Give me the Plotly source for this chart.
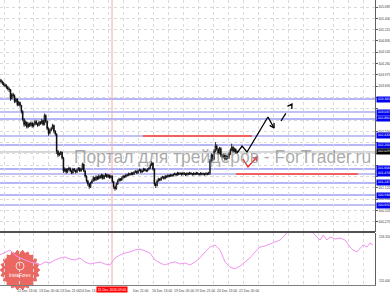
import math
import plotly.graph_objects as go

# ---------------- data ----------------
FIRST_OPEN = 103.86
CLOSE = [
    103.84, 103.80, 103.76, 103.72, 103.70, 103.66, 103.62, 103.60,
    103.38, 103.48, 103.45, 103.30, 103.36, 103.22, 103.28, 103.20,
    103.05, 102.85,
    102.72, 102.78, 102.66, 102.74, 102.70, 102.76, 102.68, 102.72, 102.80, 102.74, 102.70, 102.78, 102.75, 102.82, 102.72,
    102.95, 102.80, 102.62, 102.50, 102.58,
    102.62, 102.70, 102.55, 102.48,
    102.05, 101.95,
    101.98, 102.02, 101.88,
    101.55,
    101.60, 101.52, 101.58, 101.62, 101.55, 101.50, 101.60, 101.56, 101.52, 101.58, 101.62, 101.55, 101.60,
    101.72, 101.55,
    101.42, 101.30, 101.22, 101.15, 101.25, 101.30,
    101.38, 101.32, 101.40, 101.35, 101.42, 101.38, 101.45, 101.36, 101.42, 101.46, 101.40, 101.44, 101.38, 101.42,
    101.28, 101.15, 101.10, 101.22, 101.30,
    101.35, 101.32, 101.38, 101.42, 101.40, 101.45, 101.44, 101.48, 101.46, 101.50, 101.47, 101.52,
    101.54, 101.50, 101.56, 101.58, 101.52, 101.55, 101.60, 101.57, 101.55, 101.59, 101.62,
    101.70, 101.75, 101.60,
    101.22, 101.18,
    101.30, 101.35, 101.32, 101.38, 101.40, 101.36, 101.42, 101.40, 101.44, 101.42, 101.45, 101.43,
    101.46, 101.48, 101.45, 101.50, 101.47, 101.49, 101.46, 101.50, 101.48, 101.45, 101.49, 101.47, 101.50, 101.48,
    101.46, 101.49, 101.47, 101.50, 101.48, 101.46, 101.49, 101.47, 101.48, 101.46, 101.49, 101.47, 101.50,
    101.80, 101.95, 101.85, 102.05,
    102.18, 102.10, 102.00, 102.12, 101.95,
    101.90, 101.95, 101.85, 101.92, 101.88, 101.98,
    102.08, 102.15, 102.05, 102.10, 102.02, 102.04,
]
HIGH = [
    103.90, 103.87, 103.83, 103.80, 103.76, 103.74, 103.70, 103.66,
    103.62, 103.52, 103.52, 103.48, 103.40, 103.38, 103.32, 103.30,
    103.22, 103.08,
    102.88, 102.82, 102.80, 102.78, 102.77, 102.80, 102.79, 102.76, 102.84, 102.83, 102.77, 102.82, 102.81, 102.86, 102.84,
    103.00, 102.98, 102.83, 102.65, 102.62,
    102.66, 102.74, 102.72, 102.58,
    102.50, 102.08,
    102.02, 102.06, 102.04,
    101.90,
    101.64, 101.62, 101.62, 101.66, 101.64, 101.58, 101.63, 101.62, 101.58, 101.61, 101.65, 101.64, 101.63,
    101.76, 101.74,
    101.57, 101.44, 101.33, 101.25, 101.28, 101.34,
    101.42, 101.40, 101.44, 101.43, 101.46, 101.45, 101.48, 101.47, 101.45, 101.50, 101.48, 101.47, 101.46, 101.45,
    101.44, 101.30, 101.18, 101.26, 101.34,
    101.38, 101.37, 101.41, 101.45, 101.44, 101.48, 101.48, 101.51, 101.50, 101.53, 101.52, 101.55,
    101.57, 101.56, 101.59, 101.61, 101.60, 101.58, 101.63, 101.62, 101.59, 101.62, 101.65,
    101.74, 101.80, 101.77,
    101.62, 101.26,
    101.33, 101.38, 101.37, 101.41, 101.43, 101.42, 101.45, 101.44, 101.47, 101.46, 101.48, 101.47,
    101.49, 101.51, 101.50, 101.53, 101.52, 101.52, 101.51, 101.53, 101.52, 101.50, 101.52, 101.51, 101.53, 101.52,
    101.50, 101.52, 101.51, 101.53, 101.52, 101.50, 101.52, 101.51, 101.51, 101.50, 101.52, 101.51, 101.53,
    101.85, 102.00, 101.98, 102.10,
    102.28, 102.22, 102.13, 102.16, 102.15,
    101.98, 101.99, 101.97, 101.95, 101.94, 102.02,
    102.12, 102.24, 102.18, 102.14, 102.12, 102.07,
]
LOW = [
    103.80, 103.76, 103.72, 103.68, 103.66, 103.62, 103.58, 103.54,
    103.32, 103.35, 103.40, 103.26, 103.27, 103.18, 103.19, 103.15,
    103.00, 102.80,
    102.66, 102.68, 102.62, 102.63, 102.66, 102.67, 102.64, 102.65, 102.70, 102.71, 102.66, 102.68, 102.71, 102.73, 102.69,
    102.70, 102.76, 102.58, 102.44, 102.47,
    102.55, 102.60, 102.50, 102.44,
    101.98, 101.90,
    101.92, 101.95, 101.84,
    101.50,
    101.52, 101.48, 101.50, 101.56, 101.52, 101.47, 101.48, 101.53, 101.49, 101.50, 101.56, 101.52, 101.53,
    101.58, 101.52,
    101.38, 101.26, 101.17, 101.10, 101.12, 101.23,
    101.28, 101.29, 101.30, 101.32, 101.33, 101.35, 101.36, 101.33, 101.34, 101.40, 101.37, 101.38, 101.35, 101.36,
    101.24, 101.10, 101.05, 101.08, 101.20,
    101.28, 101.29, 101.30, 101.34, 101.37, 101.38, 101.41, 101.42, 101.43, 101.44, 101.44, 101.45,
    101.50, 101.47, 101.48, 101.54, 101.49, 101.50, 101.53, 101.54, 101.52, 101.53, 101.57,
    101.60, 101.68, 101.56,
    101.17, 101.12,
    101.16, 101.28, 101.29, 101.30, 101.36, 101.33, 101.34, 101.37, 101.38, 101.39, 101.40, 101.40,
    101.41, 101.44, 101.42, 101.43, 101.44, 101.45, 101.43, 101.44, 101.45, 101.42, 101.43, 101.44, 101.45, 101.45,
    101.43, 101.44, 101.44, 101.45, 101.45, 101.43, 101.44, 101.44, 101.44, 101.43, 101.44, 101.44, 101.45,
    101.45, 101.76, 101.80, 101.82,
    102.02, 102.06, 101.95, 101.97, 101.90,
    101.86, 101.87, 101.81, 101.82, 101.84, 101.86,
    101.95, 102.05, 102.01, 102.02, 101.98, 101.99,
]
assert len(CLOSE) == len(HIGH) == len(LOW)
BAR = list(range(1, len(CLOSE) + 1))
OPEN = [FIRST_OPEN] + CLOSE[:-1]

# indicator (bottom pane)
IND_X = [1, 5, 8.6, 12.3, 16, 19.7, 23.4, 27, 30.7, 34.4, 38.1, 41.8, 45.5, 49.2, 52.8, 56.5,
         60.2, 63.9, 67.6, 71.3, 75, 78.6, 82.3, 86, 89.7, 93.4, 97.1, 100.7, 104.4, 108.1,
         111.8, 115.5, 119.2, 122.8, 126.5, 130.2, 133.9, 137.6, 141.3, 145, 148.6, 152.3,
         156, 159.7, 163.4, 167.1, 170.7, 174.4, 178.1, 181.8, 185.5, 189.2, 192.9, 196.5,
         200.2, 203.9, 207.6, 211.3, 215, 222.3, 229.7, 231.9, 234.8, 237.1, 239.3, 242.2,
         244.4, 248.1, 251.8, 255.5, 259.2, 261.4, 264.3, 266.5, 268.8, 271.7, 273.9, 276.1]
IND_V = [114.09, 114.40, 114.60, 114.09, 113.78, 113.57, 113.37, 113.26, 113.06, 113.37, 113.26,
         113.57, 113.78, 113.88, 113.67, 113.57, 113.78, 113.37, 113.16, 113.26, 113.37, 113.16,
         113.06, 113.78, 114.09, 114.29, 114.40, 114.60, 114.70, 114.50, 114.29, 113.57, 113.26,
         113.06, 113.26, 113.37, 113.16, 113.26, 113.06, 113.37, 113.78, 114.40, 114.91, 115.12,
         114.60, 113.37, 112.85, 112.65, 112.95, 113.37, 113.78, 114.40, 114.91, 115.01, 115.22,
         115.42, 115.63, 116.14, 116.86, 117.17, 116.86, 116.35, 115.94, 115.63, 116.14, 115.63,
         115.94, 115.73, 115.84, 115.63, 114.91, 114.60, 114.40, 114.81, 115.12, 114.91, 115.32, 115.12]
IND_TOP, IND_BOTTOM = 116.35, 111.00

# horizontal levels
LEVELS_DARK = [103.365, 102.861, 102.205, 101.600, 101.247, 100.944]
LEVELS_LIGHT = [103.037, 102.433, 101.474, 100.692]
CURRENT_PRICE = 102.029
RED_SEG_X0 = [106.6, 175.2]
RED_SEG_X1 = [187.0, 265.0]
RED_SEG_Y = [102.433, 101.474]
VLINE_BAR = 83.8
VLINE_LABEL = "15 Dec 2016 09:00"

# drawn forecast arrows
FC_SOLID_X = [175.9, 179.6, 183.3, 198.7, 203.2]
FC_SOLID_Y = [102.003, 102.180, 102.029, 102.911, 102.634]
FC_SOLID_HEAD_X = [203.2, 203.2, 200.0]
FC_SOLID_HEAD_Y = [102.760, 102.634, 102.700]
FC_DASH_X = [208.3, 216.4]
FC_DASH_Y = [102.810, 103.239]
FC_DASH_HEAD_X = [213.1, 216.4, 216.3]
FC_DASH_HEAD_Y = [103.181, 103.239, 103.113]
FC_RED_X = [180.3, 184.0, 190.6]
FC_RED_Y = [101.852, 101.650, 101.903]
FC_RED_HEAD_X = [187.8, 190.6, 190.1]
FC_RED_HEAD_Y = [101.872, 101.903, 101.804]

# axes
Y_GRID = [105.685, 105.400, 105.115, 104.830, 104.545, 104.260, 103.975, 103.690, 103.405,
          103.120, 102.835, 102.550, 102.265, 101.980, 101.695, 101.410, 101.125, 100.840,
          100.555, 100.270]
TIME_X = [-3.9, 12.3, 28.5, 44.0, 59.0, 97.8, 111.8, 128.0, 143.8, 159.7, 175.9]
TIME_TEXT = ["9 Dec 21:00", "12 Dec 13:00", "13 Dec 05:00", "13 Dec 21:00", "14 Dec 13:00",
             "Dec 21:00", "16 Dec 13:00", "19 Dec 05:00", "19 Dec 21:00", "20 Dec 13:00",
             "21 Dec 05:00"]

# ---------------- figure ----------------
W, H = 390, 293
ML, MR, MT, MB = 0, 15, 0, 8
PW, PH = W - ML - MR, H - MT - MB
MAIN_DOM = [(PH - 232) / PH, 1.0]
IND_DOM = [0.0, (PH - 233) / PH]
FONT = "Liberation Sans, Arial, sans-serif"
TFS = 3.4

BOXED = LEVELS_DARK + LEVELS_LIGHT + [CURRENT_PRICE]
# tick labels that sit under a price box are covered in the reference
Y_TEXT = ["" if min(abs(v - b) for b in BOXED) < 0.1 else f"{v:.3f}" for v in Y_GRID]

fig = go.Figure()

fig.add_trace(go.Candlestick(
    x=BAR, open=OPEN, high=HIGH, low=LOW, close=CLOSE,
    increasing=dict(line=dict(color="black", width=0.8), fillcolor="white"),
    decreasing=dict(line=dict(color="black", width=0.8), fillcolor="black"),
    whiskerwidth=0, showlegend=False, hoverinfo="skip", xaxis="x", yaxis="y"))

fig.add_trace(go.Scatter(x=IND_X, y=IND_V, mode="lines", xaxis="x", yaxis="y2",
                         line=dict(color="#f294f2", width=1), showlegend=False, hoverinfo="skip"))

for xs, ys, col, dash in [
    (FC_SOLID_X, FC_SOLID_Y, "black", "solid"),
    (FC_SOLID_HEAD_X, FC_SOLID_HEAD_Y, "black", "solid"),
    (FC_DASH_X, FC_DASH_Y, "black", "dash"),
    (FC_DASH_HEAD_X, FC_DASH_HEAD_Y, "black", "solid"),
    (FC_RED_X, FC_RED_Y, "#ee2222", "solid"),
    (FC_RED_HEAD_X, FC_RED_HEAD_Y, "#ee2222", "solid"),
]:
    fig.add_trace(go.Scatter(x=xs, y=ys, mode="lines", xaxis="x", yaxis="y",
                             line=dict(color=col, width=1.3, dash=dash),
                             showlegend=False, hoverinfo="skip"))

shapes = []
for v in LEVELS_LIGHT:
    shapes.append(dict(type="line", xref="paper", yref="y", x0=0, x1=1, y0=v, y1=v,
                       line=dict(color="#c0c0f4", width=2), layer="between"))
for v in LEVELS_DARK:
    shapes.append(dict(type="line", xref="paper", yref="y", x0=0, x1=1, y0=v, y1=v,
                       line=dict(color="#6c6cf0", width=1), layer="between"))
shapes.append(dict(type="line", xref="paper", yref="y", x0=0, x1=1, y0=CURRENT_PRICE,
                   y1=CURRENT_PRICE, line=dict(color="#b0b0b0", width=1), layer="between"))
for x0, x1, v in zip(RED_SEG_X0, RED_SEG_X1, RED_SEG_Y):
    shapes.append(dict(type="line", xref="x", yref="y", x0=x0, x1=x1, y0=v, y1=v,
                       line=dict(color="#f06060", width=2), layer="between"))
shapes.append(dict(type="line", xref="x", yref="paper", x0=VLINE_BAR, x1=VLINE_BAR, y0=0, y1=1,
                   line=dict(color="#f4a8a8", width=1), layer="between"))
# pane separator
sep = (PH - 232) / PH
shapes.append(dict(type="line", xref="paper", yref="paper", x0=0, x1=1, y0=sep, y1=sep,
                   line=dict(color="#505050", width=2)))

# InstaForex logo (scalloped disc)
cx, cy, r = 20.0, 270.0, 19.0
pts = []
for k in range(241):
    t = 2 * math.pi * k / 240
    rr = r + 1.1 * math.cos(22 * t)
    px = cx + rr * math.cos(t)
    py = cy + rr * math.sin(t)
    pts.append((px / PW, (PH - py) / PH))
path = "M " + " L ".join(f"{a:.5f},{b:.5f}" for a, b in pts) + " Z"
shapes.append(dict(type="path", xref="paper", yref="paper", path=path,
                   fillcolor="rgba(232,78,70,0.85)", line=dict(width=0), layer="between"))
shapes.append(dict(type="circle", xref="paper", yref="paper",
                   x0=(20 - 4) / PW, x1=(20 + 4) / PW, y0=(PH - 270) / PH, y1=(PH - 262) / PH,
                   line=dict(color="rgba(255,255,255,0.9)", width=0.8), layer="between"))

ann = []
# watermark
ann.append(dict(text="Портал для трейдеров - ForTrader.ru", xref="paper", yref="paper",
                x=222 / PW, y=(PH - 157) / PH, xanchor="center", yanchor="middle",
                showarrow=False, font=dict(family=FONT, size=17.5, color="rgba(140,140,140,0.72)")))
ann.append(dict(text="InstaForex", xref="paper", yref="paper", x=20 / PW, y=(PH - 275) / PH,
                xanchor="center", yanchor="middle", showarrow=False,
                font=dict(family=FONT, size=4.6, color="white")))
# price boxes
for v in LEVELS_DARK + LEVELS_LIGHT:
    ann.append(dict(text=f"{v:.3f}", xref="paper", yref="y", x=1, y=v, xanchor="left",
                    yanchor="middle", showarrow=False, bgcolor="#0000f0", borderpad=0.4,
                    width=13, height=4, xshift=1,
                    font=dict(family=FONT, size=TFS, color="white")))
ann.append(dict(text=f"{CURRENT_PRICE:.3f}", xref="paper", yref="y", x=1, y=CURRENT_PRICE,
                xanchor="left", yanchor="middle", showarrow=False, bgcolor="#000000",
                borderpad=0.4, width=13, height=4, xshift=1,
                font=dict(family=FONT, size=TFS, color="white")))
# indicator scale
ann.append(dict(text=f"{IND_TOP:.3f}", xref="paper", yref="paper", x=1, y=IND_DOM[1],
                xanchor="left", yanchor="top", showarrow=False, xshift=2,
                font=dict(family=FONT, size=TFS, color="#404040")))
ann.append(dict(text=f"{IND_BOTTOM:.3f}", xref="paper", yref="paper", x=1, y=0,
                xanchor="left", yanchor="bottom", showarrow=False, xshift=2,
                font=dict(family=FONT, size=TFS, color="#404040")))
# time labels
for xv, tx in zip(TIME_X, TIME_TEXT):
    ann.append(dict(text=tx, xref="x", yref="paper", x=xv, y=0, xanchor="left", yanchor="top",
                    yshift=-1.5, showarrow=False,
                    font=dict(family=FONT, size=TFS, color="#404040")))
ann.append(dict(text=VLINE_LABEL, xref="x", yref="paper", x=VLINE_BAR, y=0, xanchor="center",
                yanchor="top", yshift=-1, showarrow=False, bgcolor="#ff0000", borderpad=0.6,
                width=29, font=dict(family=FONT, size=TFS, color="white")))

grid = dict(showgrid=True, gridcolor="#dadada", griddash="dot", gridwidth=1, zeroline=False)

fig.update_layout(
    width=W, height=H, margin=dict(l=ML, r=MR, t=MT, b=MB),
    paper_bgcolor="white", plot_bgcolor="white", showlegend=False,
    font=dict(family=FONT, size=TFS, color="#404040"),
    shapes=shapes, annotations=ann,
    xaxis=dict(domain=[0, 1], anchor="y2", range=[1.25, 277.6], tickmode="linear",
               tick0=4.2, dtick=11.05, showticklabels=False, ticks="",
               showline=True, linecolor="#808080", linewidth=1,
               rangeslider=dict(visible=False), **grid),
    yaxis=dict(domain=MAIN_DOM, anchor="x", side="right", range=[100.011, 105.862],
               tickmode="array", tickvals=Y_GRID, ticktext=Y_TEXT,
               tickfont=dict(family=FONT, size=TFS, color="#404040"),
               ticks="outside", ticklen=1.5, tickcolor="#606060",
               showline=True, linecolor="#606060", linewidth=1, **grid),
    yaxis2=dict(domain=IND_DOM, anchor="x", side="right", range=[IND_BOTTOM, IND_TOP],
                showticklabels=False, ticks="", showgrid=False, zeroline=False,
                showline=True, linecolor="#606060", linewidth=1),
)

fig.write_html("out.html")
